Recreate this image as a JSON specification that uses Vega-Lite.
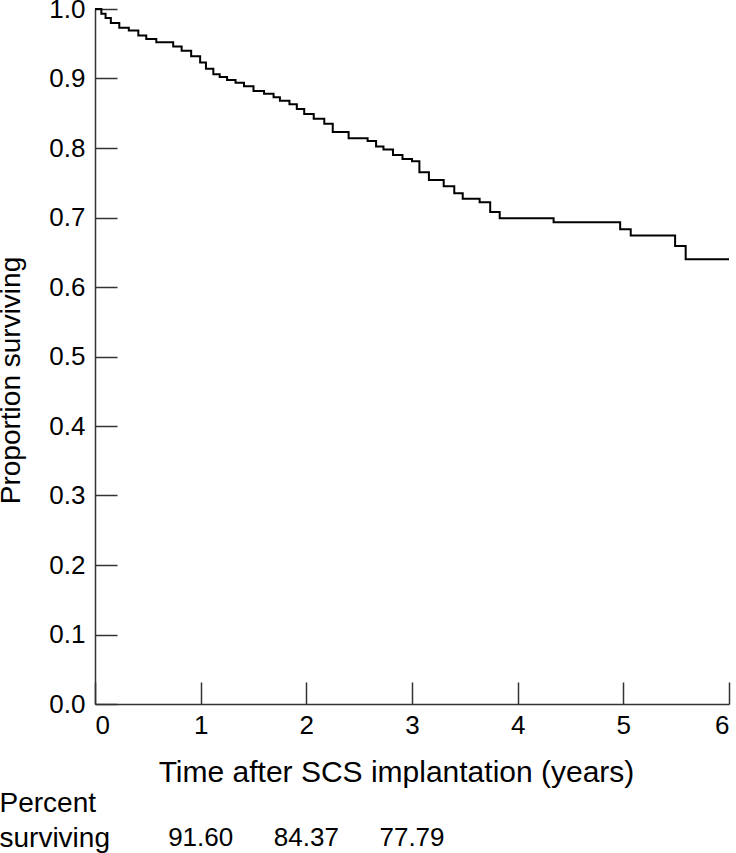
{
  "$schema": "https://vega.github.io/schema/vega-lite/v6.json",
  "padding": {"left": -3, "top": -4, "right": 0, "bottom": 0},
  "background": "white",
  "bounds": "flush",
  "spacing": 114,
  "config": {
    "font": "Liberation Sans",
    "view": {"stroke": null},
    "axis": {
      "domainColor": "#333333",
      "domainWidth": 1.5,
      "tickColor": "#333333",
      "tickWidth": 1.5,
      "labelColor": "black",
      "titleColor": "black",
      "labelFont": "Liberation Sans",
      "titleFont": "Liberation Sans",
      "titleFontWeight": "normal",
      "grid": false
    }
  },
  "datasets": {
    "km": [
      {"t": 0, "s": 1.0},
      {"t": 0.06, "s": 0.993},
      {"t": 0.10, "s": 0.987},
      {"t": 0.15, "s": 0.980},
      {"t": 0.23, "s": 0.973},
      {"t": 0.32, "s": 0.969},
      {"t": 0.41, "s": 0.962},
      {"t": 0.485, "s": 0.957},
      {"t": 0.58, "s": 0.952},
      {"t": 0.74, "s": 0.946},
      {"t": 0.82, "s": 0.940},
      {"t": 0.91, "s": 0.932},
      {"t": 0.995, "s": 0.923},
      {"t": 1.05, "s": 0.914},
      {"t": 1.12, "s": 0.906},
      {"t": 1.18, "s": 0.902},
      {"t": 1.25, "s": 0.898},
      {"t": 1.33, "s": 0.894},
      {"t": 1.41, "s": 0.889},
      {"t": 1.50, "s": 0.882},
      {"t": 1.60, "s": 0.878},
      {"t": 1.69, "s": 0.873},
      {"t": 1.75, "s": 0.868},
      {"t": 1.84, "s": 0.863},
      {"t": 1.91, "s": 0.856},
      {"t": 1.98, "s": 0.849},
      {"t": 2.07, "s": 0.842},
      {"t": 2.17, "s": 0.835},
      {"t": 2.25, "s": 0.823},
      {"t": 2.40, "s": 0.814},
      {"t": 2.58, "s": 0.810},
      {"t": 2.66, "s": 0.802},
      {"t": 2.73, "s": 0.798},
      {"t": 2.82, "s": 0.790},
      {"t": 2.91, "s": 0.784},
      {"t": 3.00, "s": 0.781},
      {"t": 3.07, "s": 0.765},
      {"t": 3.16, "s": 0.754},
      {"t": 3.30, "s": 0.745},
      {"t": 3.40, "s": 0.735},
      {"t": 3.48, "s": 0.727},
      {"t": 3.64, "s": 0.722},
      {"t": 3.74, "s": 0.708},
      {"t": 3.83, "s": 0.699},
      {"t": 4.34, "s": 0.693},
      {"t": 4.97, "s": 0.683},
      {"t": 5.07, "s": 0.674},
      {"t": 5.49, "s": 0.659},
      {"t": 5.59, "s": 0.640},
      {"t": 6.00, "s": 0.640}
    ],
    "pct": [
      {"year": 1, "percent": "91.60", "row": "surviving"},
      {"year": 2, "percent": "84.37", "row": "surviving"},
      {"year": 3, "percent": "77.79", "row": "surviving"}
    ]
  },
  "vconcat": [
    {
      "width": 634,
      "height": 695,
      "data": {"name": "km"},
      "mark": {"type": "line", "interpolate": "step-after", "color": "black", "strokeWidth": 2},
      "encoding": {
        "x": {
          "field": "t", "type": "quantitative",
          "scale": {"domain": [0, 6], "nice": false},
          "axis": {
            "values": [0, 1, 2, 3, 4, 5, 6], "format": "d",
            "tickSize": -22, "labelPadding": 30, "labelFontSize": 26,
            "title": "Time after SCS implantation (years)", "titleFontSize": 30,
            "titleX": 301, "titleY": 77, "titleBaseline": "alphabetic", "titleAlign": "center"
          }
        },
        "y": {
          "field": "s", "type": "quantitative",
          "scale": {"domain": [0, 1], "nice": false},
          "axis": {
            "values": [0, 0.1, 0.2, 0.3, 0.4, 0.5, 0.6, 0.7, 0.8, 0.9, 1.0], "format": ".1f",
            "tickSize": -22, "labelPadding": 32, "labelFontSize": 26,
            "title": "Proportion surviving", "titleFontSize": 28,
            "titleX": -76, "titleY": 371, "titleBaseline": "alphabetic", "titleAlign": "center", "titleAngle": -90
          }
        }
      }
    },
    {
      "width": 634,
      "height": 40,
      "data": {"name": "pct"},
      "mark": {"type": "text", "fontSize": 26, "color": "black", "baseline": "middle"},
      "encoding": {
        "x": {"field": "year", "type": "quantitative", "scale": {"domain": [0, 6], "nice": false}, "axis": null},
        "y": {
          "field": "row", "type": "nominal",
          "axis": {
            "domain": false, "ticks": false, "labelAlign": "left", "labelPadding": 96,
            "labelFontSize": 28, "labelBaseline": "middle",
            "title": "Percent", "titleFontSize": 28, "titleAngle": 0, "titleAlign": "left",
            "titleBaseline": "middle", "titleX": -96, "titleY": -15
          }
        },
        "text": {"field": "percent"}
      }
    }
  ]
}
